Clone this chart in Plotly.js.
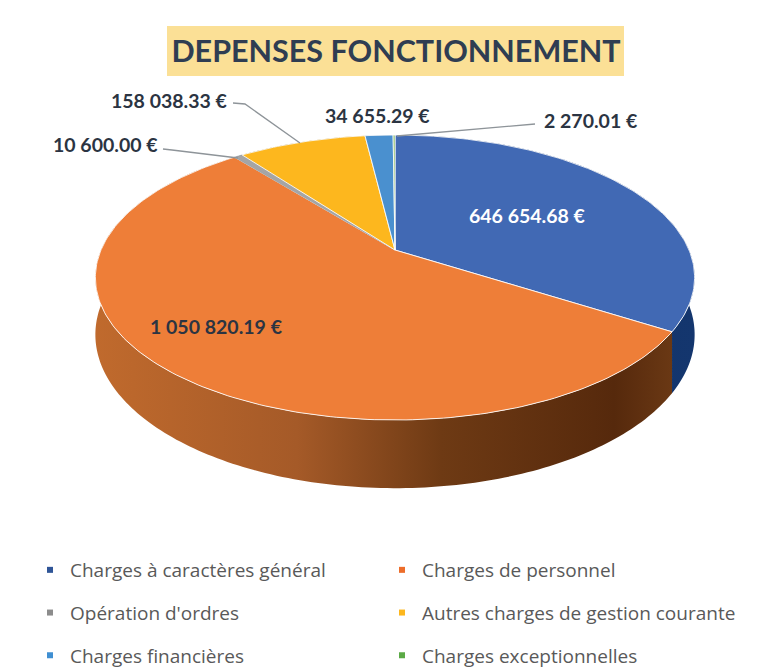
<!DOCTYPE html>
<html><head><meta charset="utf-8">
<script src="https://cdn.plot.ly/plotly-3.0.1.min.js"></script>
<style>html,body{margin:0;padding:0;background:#fff}</style></head>
<body><div id="chart" style="width:758px;height:668px"></div>
<script>
const categories = ["Charges à caractères général","Charges de personnel","Opération d'ordres","Autres charges de gestion courante","Charges financières","Charges exceptionnelles"];
const values = [646654.68,1050820.19,10600.00,158038.33,34655.29,2270.01];
const colors = ["#4169B4","#EE7E38","#A5A5A5","#FDB71E","#4A90CF","#70AD47"];
const legendColors = ["#2F5597","#ED6D2A","#8C8C8C","#FDB71E","#3F8FD2","#5BAA46"];
const wallScales = [
  [[0,"#0F2E62"],[1,"#14366E"]],
  [[0,"#C06A2D"],[0.35,"#A55A28"],[0.6,"#6E3A14"],[0.9,"#56290C"],[1,"#6A3814"]],
  [[0,"#666666"],[1,"#666666"]],
  [[0,"#9A7210"],[1,"#9A7210"]],
  [[0,"#2A5A85"],[1,"#2A5A85"]],
  [[0,"#44692B"],[1,"#44692B"]]
];
const labelColors = ["#FFFFFF","#2B3442","#2B3442","#2B3442","#2B3442","#2B3442"];
const labelAnchors = [[527,215],[216,326],[105,144],[169,100],[377,115],[591,120]];
const leaderPaths = [null,null,"M163,149 L172,150 L238,158","M233,103 L245,104 L300,143",null,"M535,124 L397,136"];

// Projection of the tilted disk
const cx=395, cy=250, rw=294, rh=137.2, persp=0.193, depth=55;
function project(deg, drop){
  const a=deg*Math.PI/180, u=Math.sin(a), v=-Math.cos(a), d=1-persp*v;
  return [cx+rw*u/d, cy+(rh*v+drop)/d];
}
function arc(a0,a1,drop){
  const n=Math.max(2,Math.ceil((a1-a0)/1)+1), out=[];
  for(let i=0;i<n;i++){ out.push(project(a0+(a1-a0)*i/(n-1),drop)); }
  return out;
}
const total=values.reduce((s,v)=>s+v,0);
function fmt(v){
  const [i,d]=v.toFixed(2).split(".");
  return i.replace(/\B(?=(\d{3})+$)/g," ")+"."+d+" €";
}
const walls=[], tops=[], legends=[];
let start=0;
values.forEach((val,i)=>{
  const sweep=val/total*360, end=start+sweep;
  const upper=arc(start,end,0), lower=arc(start,end,depth).reverse();
  const w=upper.concat(lower); w.push(w[0]);
  walls.push({type:"scatter",mode:"none",x:w.map(p=>p[0]),y:w.map(p=>p[1]),fill:"toself",
    fillgradient:{type:"horizontal",colorscale:wallScales[i]},showlegend:false,hoverinfo:"skip"});
  const t=[[cx,cy]].concat(upper,[[cx,cy]]);
  const grey=sweep>1 && sweep<3;
  tops.push({type:"scatter",mode:"lines",x:t.map(p=>p[0]),y:t.map(p=>p[1]),fill:"toself",fillcolor:colors[i],
    line:{color:grey?"#9AA3AC":"rgba(255,255,255,0.85)",width:grey?0.6:1},
    name:categories[i],showlegend:false,hoverinfo:"name+text",text:fmt(val)});
  legends.push({type:"scatter",mode:"markers",x:[null],y:[null],name:categories[i],
    marker:{symbol:"square",size:6,color:legendColors[i]},
    legend:i%2?"legend2":"legend",legendgroup:"g"+i,hoverinfo:"skip"});
  start=end;
});
const annotations=values.map((v,i)=>({x:labelAnchors[i][0],y:labelAnchors[i][1],xref:"x",yref:"y",
  text:"<b>"+fmt(v)+"</b>",showarrow:false,font:{family:"Lato",size:19.5,color:labelColors[i]},xanchor:"center",yanchor:"middle"}));
const shapes=[{type:"rect",xref:"x",yref:"y",x0:167,x1:624,y0:26,y1:76,fillcolor:"#FBE096",line:{width:0},layer:"below"}];
leaderPaths.forEach(p=>{ if(p) shapes.push({type:"path",xref:"x",yref:"y",path:p,line:{color:"#8E9499",width:1.3}}); });
const legendBase={orientation:"v",yref:"container",xref:"container",yanchor:"top",xanchor:"left",y:1-551/668,tracegroupgap:15,
  bgcolor:"rgba(0,0,0,0)",font:{family:"Open Sans",size:19,color:"#595959"},itemwidth:30};
const layout={
  width:758,height:668,margin:{l:0,r:0,t:0,b:0,autoexpand:false},paper_bgcolor:"#fff",plot_bgcolor:"#fff",
  title:{text:"<b>DEPENSES FONCTIONNEMENT</b>",x:396/758,xanchor:"center",y:1-51/668,yanchor:"middle",
    font:{family:"Lato",size:30.5,color:"#2F3D52"}},
  xaxis:{range:[0,758],visible:false,fixedrange:true},
  yaxis:{range:[668,0],visible:false,fixedrange:true},
  showlegend:true,
  legend:Object.assign({},legendBase,{x:30/758}),
  legend2:Object.assign({},legendBase,{x:382/758}),
  annotations,shapes,hovermode:"closest"
};
Plotly.newPlot("chart",walls.concat(tops,legends),layout,{displayModeBar:false,responsive:false});
</script></body></html>
